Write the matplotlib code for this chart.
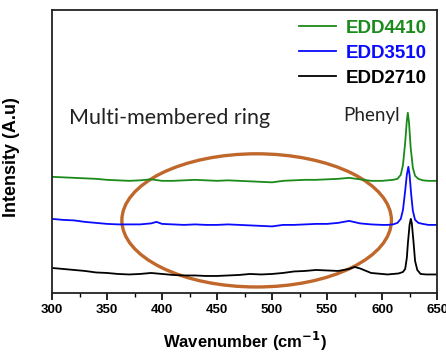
import matplotlib
matplotlib.use("Agg")
import matplotlib.pyplot as plt
from matplotlib.patches import Ellipse
from matplotlib.ticker import MultipleLocator

plt.rcParams['font.family'] = ['Liberation Sans', 'DejaVu Sans']

# curves (arbitrary intensity units)
wn_green = [300, 310, 320, 330, 340, 350, 360, 370, 380, 390, 400, 410, 420, 430, 440, 450,
            460, 470, 480, 490, 500, 510, 520, 530, 540, 550, 560, 570, 580, 590, 600, 605,
            610, 614, 617, 619, 621, 622.5, 623.4, 624.5, 626, 628, 630, 633, 637, 642, 650]
int_green = [116, 115.5, 115, 114.5, 114, 113, 112.5, 112, 112.5, 113.5, 112, 112, 112.5, 113,
             112.5, 112, 112.5, 112, 111.5, 111, 110.5, 112, 112.5, 113, 113, 113.5, 114, 115,
             113.5, 112, 112, 112.5, 113, 114, 118, 128, 150, 172, 180, 170, 145, 125, 117,
             114, 112.5, 112, 112]

wn_blue = [300, 310, 320, 330, 340, 350, 360, 370, 380, 390, 395, 400, 410, 420, 430, 440, 450,
           460, 470, 480, 490, 500, 510, 520, 530, 540, 550, 560, 570, 580, 590, 600, 605,
           610, 614, 617, 619, 621, 622.5, 623.9, 625, 626.5, 628, 630, 633, 637, 642, 650]
int_blue = [74, 73, 72.5, 71, 70, 69, 68.5, 68.5, 68.5, 69.5, 71, 69, 68.5, 68, 68.5, 68, 68,
            68.5, 68, 67.5, 67, 66.5, 68, 68, 68.5, 69, 69, 70, 72, 69.5, 68.5, 68, 68,
            68.5, 70, 74, 83, 102, 118, 126, 118, 98, 82, 73, 70, 69, 68, 68]

wn_black = [300, 310, 320, 330, 340, 350, 360, 370, 380, 390, 400, 410, 420, 430, 440, 450,
            460, 470, 480, 490, 500, 510, 520, 530, 540, 550, 560, 570, 575, 580, 590, 600,
            605, 610, 615, 619, 621, 622.5, 623.5, 625, 626.1, 627, 628.5, 630, 632, 635,
            640, 650]
int_black = [25, 24, 23, 22, 20.5, 20, 19, 18.5, 19, 20, 19, 18, 17.5, 17.5, 17, 17,
             17.5, 18, 19, 18.5, 19, 20, 21.5, 22, 23, 22.5, 22, 24, 26, 24.5, 20, 19,
             18.5, 19, 19.5, 21, 24, 35, 50, 68, 74, 70, 52, 32, 23, 19,
             18.5, 18.5]

labels = ['EDD4410', 'EDD3510', 'EDD2710']
colors = ['#1a8a1a', '#0a0aff', 'black']

fig = plt.figure(figsize=(4.46, 3.56), dpi=100)
ax = fig.add_axes([0.1166, 0.177, 0.8634, 0.796])

ax.plot(wn_green, int_green, color=colors[0], lw=1.3, label=labels[0])
ax.plot(wn_blue, int_blue, color=colors[1], lw=1.3, label=labels[1])
ax.plot(wn_black, int_black, color=colors[2], lw=1.3, label=labels[2])

ax.add_patch(Ellipse((486, 72.5), 245, 133, fill=False, edgecolor='#c0672b', lw=2.4))

ax.set_xlim(300, 650)
ax.set_ylim(0, 283)
ax.set_yticks([])
ax.xaxis.set_major_locator(MultipleLocator(50))
ax.xaxis.set_minor_locator(MultipleLocator(25))
ax.tick_params(axis='x', which='major', direction='out', length=5, width=1.2,
               labelsize=9.5, pad=3)
ax.tick_params(axis='x', which='minor', direction='out', length=3, width=1.0)
for lab in ax.get_xticklabels():
    lab.set_fontweight('bold')
for sp in ax.spines.values():
    sp.set_linewidth(1.3)
    sp.set_color('#222222')

ax.set_xlabel('Wavenumber (cm$^{\\mathbf{-1}}$)', fontsize=12, fontweight='bold', labelpad=10)
ax.set_ylabel('Intensity (A.u)', fontsize=13, fontweight='bold')
ax.yaxis.set_label_coords(-0.083, 0.48)

leg = ax.legend(loc='upper right', frameon=False, handlelength=2.0,
                handletextpad=0.5, labelspacing=0.42, borderaxespad=0.15,
                prop={'weight': 'bold', 'size': 13.5})
for t, c in zip(leg.get_texts(), colors):
    t.set_color(c)

ax.text(315.5, 175, 'Multi-membered ring', fontsize=15.5, family=['Lato', 'DejaVu Sans'],
        color='#222222', va='center')
ax.text(564.5, 177, 'Phenyl', fontsize=13.5, family=['Lato', 'DejaVu Sans'],
        color='#222222', va='center')

fig.savefig('out.png', dpi=100)
